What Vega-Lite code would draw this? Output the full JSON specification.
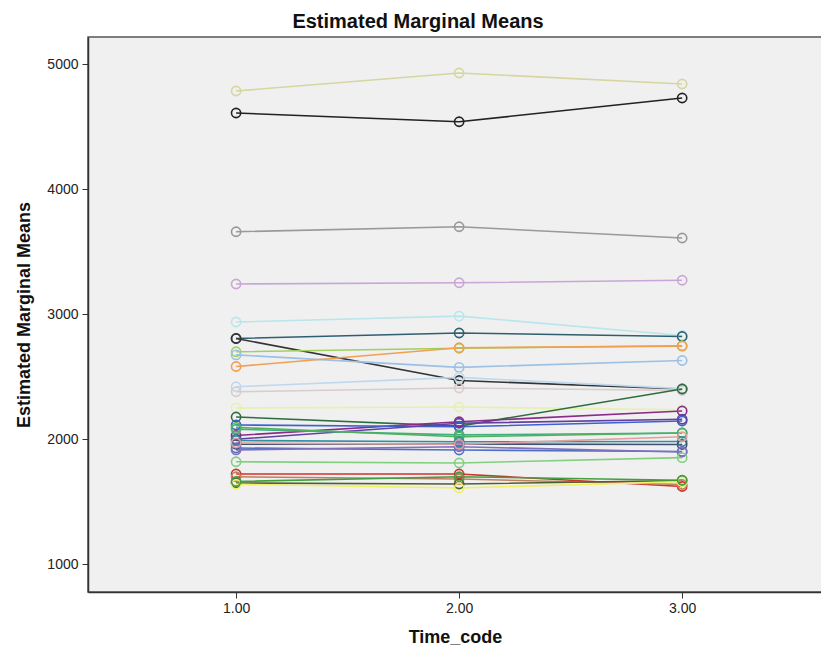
{
  "$schema": "https://vega.github.io/schema/vega-lite/v6.json",
  "width": 734,
  "height": 555,
  "autosize": "none",
  "padding": {"left": 88, "top": 37, "right": 0, "bottom": 60},
  "background": "#ffffff",
  "title": {"text": "Estimated Marginal Means", "font": "Liberation Sans", "fontSize": 20, "fontWeight": "bold", "color": "#111111", "anchor": "middle", "dx": -37, "offset": 5},
  "config": {
    "view": {"fill": "#f0f0f0", "stroke": "#555555", "strokeWidth": 1.5},
    "axis": {"labelFont": "Liberation Sans", "titleFont": "Liberation Sans", "labelFontSize": 14, "labelColor": "#222222", "titleFontSize": 18, "titleFontWeight": "bold", "titleColor": "#111111", "domainColor": "#333333", "tickColor": "#333333", "domainWidth": 1.5, "grid": false, "tickSize": 6}
  },
  "data": {"values": [
    {"s": "s01", "t": 1, "m": 4786}, {"s": "s01", "t": 2, "m": 4930}, {"s": "s01", "t": 3, "m": 4842},
    {"s": "s02", "t": 1, "m": 4610}, {"s": "s02", "t": 2, "m": 4540}, {"s": "s02", "t": 3, "m": 4730},
    {"s": "s03", "t": 1, "m": 3660}, {"s": "s03", "t": 2, "m": 3700}, {"s": "s03", "t": 3, "m": 3610},
    {"s": "s04", "t": 1, "m": 3242}, {"s": "s04", "t": 2, "m": 3252}, {"s": "s04", "t": 3, "m": 3272},
    {"s": "s05", "t": 1, "m": 2938}, {"s": "s05", "t": 2, "m": 2985}, {"s": "s05", "t": 3, "m": 2830},
    {"s": "s06", "t": 1, "m": 2806}, {"s": "s06", "t": 2, "m": 2850}, {"s": "s06", "t": 3, "m": 2822},
    {"s": "s07", "t": 1, "m": 2806}, {"s": "s07", "t": 2, "m": 2470}, {"s": "s07", "t": 3, "m": 2402},
    {"s": "s08", "t": 1, "m": 2700}, {"s": "s08", "t": 2, "m": 2728}, {"s": "s08", "t": 3, "m": 2748},
    {"s": "s09", "t": 1, "m": 2675}, {"s": "s09", "t": 2, "m": 2575}, {"s": "s09", "t": 3, "m": 2630},
    {"s": "s10", "t": 1, "m": 2582}, {"s": "s10", "t": 2, "m": 2732}, {"s": "s10", "t": 3, "m": 2745},
    {"s": "s11", "t": 1, "m": 2420}, {"s": "s11", "t": 2, "m": 2495}, {"s": "s11", "t": 3, "m": 2405},
    {"s": "s12", "t": 1, "m": 2380}, {"s": "s12", "t": 2, "m": 2410}, {"s": "s12", "t": 3, "m": 2390},
    {"s": "s13", "t": 1, "m": 2250}, {"s": "s13", "t": 2, "m": 2258}, {"s": "s13", "t": 3, "m": 2235},
    {"s": "s14", "t": 1, "m": 2178}, {"s": "s14", "t": 2, "m": 2105}, {"s": "s14", "t": 3, "m": 2402},
    {"s": "s15", "t": 1, "m": 2030}, {"s": "s15", "t": 2, "m": 2140}, {"s": "s15", "t": 3, "m": 2226},
    {"s": "s16", "t": 1, "m": 2114}, {"s": "s16", "t": 2, "m": 2100}, {"s": "s16", "t": 3, "m": 2146},
    {"s": "s17", "t": 1, "m": 2000}, {"s": "s17", "t": 2, "m": 2128}, {"s": "s17", "t": 3, "m": 2160},
    {"s": "s18", "t": 1, "m": 2080}, {"s": "s18", "t": 2, "m": 2035}, {"s": "s18", "t": 3, "m": 2050},
    {"s": "s19", "t": 1, "m": 2095}, {"s": "s19", "t": 2, "m": 2020}, {"s": "s19", "t": 3, "m": 2050},
    {"s": "s20", "t": 1, "m": 1990}, {"s": "s20", "t": 2, "m": 1980}, {"s": "s20", "t": 3, "m": 1982},
    {"s": "s21", "t": 1, "m": 1960}, {"s": "s21", "t": 2, "m": 1962}, {"s": "s21", "t": 3, "m": 1958},
    {"s": "s22", "t": 1, "m": 1930}, {"s": "s22", "t": 2, "m": 1914}, {"s": "s22", "t": 3, "m": 1902},
    {"s": "s23", "t": 1, "m": 1915}, {"s": "s23", "t": 2, "m": 1940}, {"s": "s23", "t": 3, "m": 1898},
    {"s": "s24", "t": 1, "m": 1820}, {"s": "s24", "t": 2, "m": 1810}, {"s": "s24", "t": 3, "m": 1853},
    {"s": "s25", "t": 1, "m": 1722}, {"s": "s25", "t": 2, "m": 1722}, {"s": "s25", "t": 3, "m": 1622},
    {"s": "s26", "t": 1, "m": 1700}, {"s": "s26", "t": 2, "m": 1682}, {"s": "s26", "t": 3, "m": 1638},
    {"s": "s27", "t": 1, "m": 1650}, {"s": "s27", "t": 2, "m": 1642}, {"s": "s27", "t": 3, "m": 1670},
    {"s": "s28", "t": 1, "m": 1640}, {"s": "s28", "t": 2, "m": 1610}, {"s": "s28", "t": 3, "m": 1660},
    {"s": "s29", "t": 1, "m": 1662}, {"s": "s29", "t": 2, "m": 1700}, {"s": "s29", "t": 3, "m": 1672},
    {"s": "s30", "t": 1, "m": 1970}, {"s": "s30", "t": 2, "m": 1960}, {"s": "s30", "t": 3, "m": 2020}
  ]},
  "encoding": {
    "x": {"field": "t", "type": "quantitative", "scale": {"domain": [0.336, 3.627], "nice": false, "zero": false},
          "axis": {"values": [1, 2, 3], "format": ".2f", "title": "Time_code", "titleY": 45, "titleBaseline": "middle", "labelPadding": 3}},
    "y": {"field": "m", "type": "quantitative", "scale": {"domain": [778, 5218], "nice": false, "zero": false},
          "axis": {"values": [1000, 2000, 3000, 4000, 5000], "format": "d", "title": "Estimated Marginal Means", "titleX": -64, "titleBaseline": "middle", "labelPadding": 4}},
    "color": {"field": "s", "type": "nominal", "legend": null,
              "scale": {"domain": ["s01","s02","s03","s04","s05","s06","s07","s08","s09","s10","s11","s12","s13","s14","s15","s16","s17","s18","s19","s20","s21","s22","s23","s24","s25","s26","s27","s28","s29","s30"],
                        "range": ["#d6d6a0","#222222","#999999","#c9a6d6","#b8e6ec","#2e5f6f","#333333","#a0d060","#9cc0e6","#f0a050","#c0d8ee","#d8cccc","#e6f0b0","#2e6e3e","#8a2a8a","#4060d0","#6040a0","#40b080","#50b060","#3090a0","#405070","#5070c0","#8070c0","#80d080","#d03030","#c08060","#506030","#f0f060","#40a040","#e0a0a0"]}}
  },
  "layer": [
    {"mark": {"type": "line", "strokeWidth": 1.6}, "encoding": {"detail": {"field": "s"}}},
    {"mark": {"type": "point", "filled": false, "size": 85, "strokeWidth": 1.6, "opacity": 1}}
  ]
}
